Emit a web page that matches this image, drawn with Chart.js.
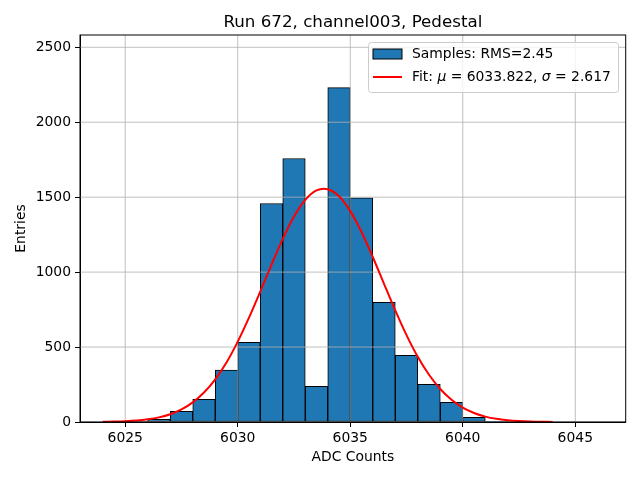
<!DOCTYPE html>
<html>
<head>
<meta charset="utf-8">
<script src="https://cdn.jsdelivr.net/npm/chart.js@4.4.0/dist/chart.umd.min.js"></script>
<style>
  html, body { margin: 0; padding: 0; background: #fff; }
  #wrap { width: 640px; height: 480px; }
</style>
</head>
<body>
<div id="wrap"><canvas id="chart" width="640" height="480"></canvas></div>
<script>
// histogram bins (left edge, width 1 ADC count) and entries per bin
var binEdges = [6024, 6025, 6026, 6027, 6028, 6029, 6030, 6031, 6032, 6033, 6034,
                6035, 6036, 6037, 6038, 6039, 6040, 6041, 6042, 6043, 6044, 6045];
var binCounts = [0, 3, 18, 71, 151, 347, 531, 1458, 1758, 238, 2231,
                 1496, 798, 445, 251, 131, 31, 5, 0, 0, 0, 0];

// fitted gaussian, sampled every half count
var fitX = [6024, 6024.5, 6025, 6025.5, 6026, 6026.5, 6027, 6027.5, 6028, 6028.5,
            6029, 6029.5, 6030, 6030.5, 6031, 6031.5, 6032, 6032.5, 6033, 6033.5,
            6034, 6034.5, 6035, 6035.5, 6036, 6036.5, 6037, 6037.5, 6038, 6038.5,
            6039, 6039.5, 6040, 6040.5, 6041, 6041.5, 6042, 6042.5, 6043, 6043.5, 6044];
var fitY = [1.4, 2.7, 5.3, 9.9, 18, 31, 52, 84, 131, 197,
            285, 397, 536, 696, 870, 1050, 1222, 1371, 1482, 1545,
            1553, 1506, 1407, 1268, 1101, 922, 745, 580, 435, 315,
            220, 148, 96, 60, 36, 21, 12, 6.4, 3.3, 1.7, 0.8];

var xTicks = [6025, 6030, 6035, 6040, 6045];
var yTicks = [0, 500, 1000, 1500, 2000, 2500];

var titleText = 'Run 672, channel003, Pedestal';
var sampleLabel = 'Samples: RMS=2.45';
var fitMu = '6033.822';
var fitSigma = '2.617';

var FONT = 'DejaVu Sans';
var GRID = '#b0b0b0';

var barPoints = binEdges.map(function (e, i) { return { x: e + 0.5, y: binCounts[i] }; });
var fitPoints = fitX.map(function (x, i) { return { x: x, y: fitY[i] }; });

// grid lines go above the bars but below the fit line, as in matplotlib
var gridOverBars = {
  id: 'gridOverBars',
  afterDatasetDraw: function (chart, args) {
    if (args.meta.type !== 'bar') return;
    var ctx = chart.ctx, a = chart.chartArea;
    var xs = chart.scales.x, ys = chart.scales.y;
    ctx.save();
    ctx.beginPath();
    ctx.rect(a.left, a.top, a.right - a.left, a.bottom - a.top);
    ctx.clip();
    ctx.strokeStyle = GRID;
    ctx.lineWidth = 0.8;
    xTicks.forEach(function (v) {
      var px = xs.getPixelForValue(v);
      ctx.beginPath(); ctx.moveTo(px, a.top); ctx.lineTo(px, a.bottom); ctx.stroke();
    });
    yTicks.forEach(function (v) {
      var py = ys.getPixelForValue(v);
      ctx.beginPath(); ctx.moveTo(a.left, py); ctx.lineTo(a.right, py); ctx.stroke();
    });
    ctx.restore();
  }
};

var frameAndLegend = {
  id: 'frameAndLegend',
  afterDraw: function (chart) {
    var ctx = chart.ctx, a = chart.chartArea;
    ctx.save();
    // axes frame
    ctx.strokeStyle = '#000';
    ctx.lineWidth = 1;
    ctx.strokeRect(a.left, a.top, a.right - a.left, a.bottom - a.top);

    // title, centred over the axes
    ctx.fillStyle = '#000';
    ctx.font = '16.7px "' + FONT + '"';
    ctx.textAlign = 'center';
    ctx.textBaseline = 'alphabetic';
    ctx.fillText(titleText, (a.left + a.right) / 2, 27);

    // legend box, upper right
    var bx = 368.5, by = 42.5, bw = 250, bh = 50, r = 3;
    ctx.beginPath();
    ctx.moveTo(bx + r, by);
    ctx.arcTo(bx + bw, by, bx + bw, by + bh, r);
    ctx.arcTo(bx + bw, by + bh, bx, by + bh, r);
    ctx.arcTo(bx, by + bh, bx, by, r);
    ctx.arcTo(bx, by, bx + bw, by, r);
    ctx.closePath();
    ctx.fillStyle = 'rgba(255,255,255,0.8)';
    ctx.fill();
    ctx.strokeStyle = '#cccccc';
    ctx.lineWidth = 1;
    ctx.stroke();

    // patch for the histogram
    ctx.fillStyle = '#1f77b4';
    ctx.fillRect(373, 49, 29, 10);
    ctx.strokeStyle = '#000';
    ctx.lineWidth = 1;
    ctx.strokeRect(373, 49, 29, 10);

    // line for the fit
    ctx.strokeStyle = 'red';
    ctx.lineWidth = 2;
    ctx.beginPath(); ctx.moveTo(373, 77); ctx.lineTo(402, 77); ctx.stroke();

    ctx.fillStyle = '#000';
    ctx.textBaseline = 'middle';
    ctx.textAlign = 'left';
    var tx = 412;
    ctx.font = '13.9px "' + FONT + '"';
    ctx.fillText(sampleLabel, tx, 54);

    var parts = [
      ['Fit: ', false], ['\u03bc', true], [' = ' + fitMu + ', ', false],
      ['\u03c3', true], [' = ' + fitSigma, false]
    ];
    parts.forEach(function (p) {
      ctx.font = (p[1] ? 'italic ' : '') + '13.9px "' + FONT + '"';
      ctx.fillText(p[0], tx, 77);
      tx += ctx.measureText(p[0]).width;
    });
    ctx.restore();
  }
};

new Chart(document.getElementById('chart'), {
  type: 'bar',
  data: {
    datasets: [
      {
        type: 'line',
        label: 'Fit',
        data: fitPoints,
        borderColor: 'red',
        borderWidth: 2,
        pointRadius: 0,
        tension: 0.3,
        fill: false,
        order: 0
      },
      {
        type: 'bar',
        label: sampleLabel,
        data: barPoints,
        backgroundColor: '#1f77b4',
        borderColor: '#000',
        borderWidth: 1,
        borderSkipped: false,
        barPercentage: 1,
        categoryPercentage: 1,
        grouped: false,
        order: 1
      }
    ]
  },
  options: {
    responsive: false,
    animation: false,
    devicePixelRatio: 1,
    layout: { padding: { left: 0, right: 14.3, top: 35, bottom: 0 } },
    plugins: {
      legend: { display: false },
      tooltip: { enabled: false },
      title: { display: false }
    },
    scales: {
      x: {
        type: 'linear',
        min: 6022.99,
        max: 6047.24,
        offset: false,
        afterBuildTicks: function (s) {
          s.ticks = xTicks.map(function (v) { return { value: v }; });
        },
        afterFit: function (s) { s.height = 58; },
        ticks: {
          color: '#000',
          padding: 3,
          maxRotation: 0,
          font: { family: FONT, size: 13.9 },
          callback: function (v) { return String(v); }
        },
        grid: {
          offset: false,
          drawOnChartArea: false,
          tickLength: 5,
          tickColor: '#000',
          tickWidth: 1
        },
        border: { color: '#000', width: 1 },
        title: {
          display: true,
          text: 'ADC Counts',
          color: '#000',
          font: { family: FONT, size: 13.9, lineHeight: 1.2 },
          padding: { top: 0, bottom: 14.5 }
        }
      },
      y: {
        type: 'linear',
        min: 0,
        max: 2582,
        afterBuildTicks: function (s) {
          s.ticks = yTicks.map(function (v) { return { value: v }; });
        },
        afterFit: function (s) { s.width = 80; },
        ticks: {
          color: '#000',
          padding: 4,
          font: { family: FONT, size: 13.9 },
          callback: function (v) { return String(v); }
        },
        grid: {
          drawOnChartArea: false,
          tickLength: 5,
          tickColor: '#000',
          tickWidth: 1
        },
        border: { color: '#000', width: 1 },
        title: {
          display: true,
          text: 'Entries',
          color: '#000',
          font: { family: FONT, size: 13.9, lineHeight: 1.2 },
          padding: { top: 13.5, bottom: 0 }
        }
      }
    }
  },
  plugins: [gridOverBars, frameAndLegend]
});
</script>
</body>
</html>
